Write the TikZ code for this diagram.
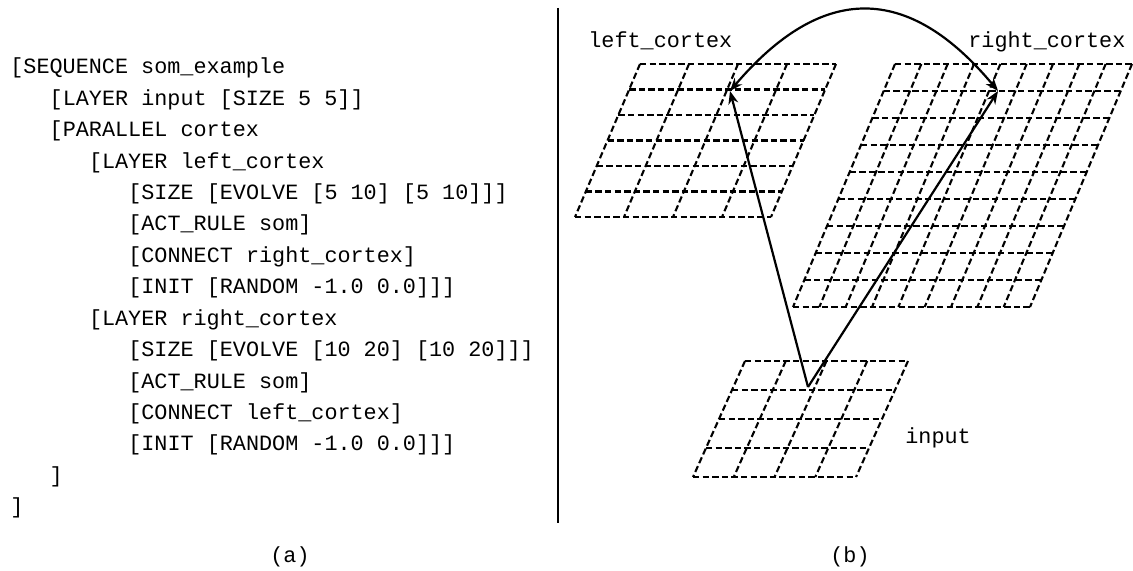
\documentclass[tikz,border=0pt]{standalone}
\usepackage{fontspec}
\newfontfamily\cour{Liberation Mono}
\usetikzlibrary{arrows.meta}
\newcommand{\s}{\hphantom{x}}
\newcommand{\skgrid}[7]{%
  \foreach \i in {0,...,#7}{\draw[gridline] ({#1-#5*\i/#7},{#2+#4*\i/#7}) -- ++(#3,0);}
  \foreach \j in {0,...,#6}{\draw[gridline] ({#1+#3*\j/#6},#2) -- ++(-#5,#4);}
}
\begin{document}
\begin{tikzpicture}[x=0.5pt,y=-0.5pt,
  gridline/.style={line width=1.05pt,dash pattern=on 3.2pt off 1.6pt},
  code/.style={anchor=base west,inner sep=0pt,font=\cour\fontsize{10.9}{13}\selectfont},
  lbl/.style={anchor=base west,inner sep=0pt,font=\cour\fontsize{10.9}{13}\selectfont},
  captext/.style={anchor=base,inner sep=0pt,font=\cour\fontsize{10.9}{13}\selectfont},
  conn/.style={line width=1.1pt,-{Stealth[length=6.5pt,width=5pt]}},
  conn2/.style={line width=1.1pt,{Stealth[length=6.5pt,width=5pt]}-{Stealth[length=6.5pt,width=5pt]}}]
\useasboundingbox (0,0) rectangle (1133,571);
% code listing
\node[code] (l1)  at (10, 74.0)  {[SEQUENCE\s som\_example};
\node[code] (l2)  at (49.3,105.4) {[LAYER\s input\s[SIZE\s5\s5]]};
\node[code] (l3)  at (49.3,136.8) {[PARALLEL\s cortex};
\node[code] (l4)  at (88.6,168.2) {[LAYER\s left\_cortex};
\node[code] (l5)  at (127.9,199.6) {[SIZE\s[EVOLVE\s[5\s10]\s[5\s10]]]};
\node[code] (l6)  at (127.9,231.0) {[ACT\_RULE\s som]};
\node[code] (l7)  at (127.9,262.4) {[CONNECT\s right\_cortex]};
\node[code] (l8)  at (127.9,293.8) {[INIT\s[RANDOM\s-1.0\s0.0]]]};
\node[code] (l9)  at (88.6,325.2) {[LAYER\s right\_cortex};
\node[code] (l10) at (127.9,356.6) {[SIZE\s[EVOLVE\s[10\s20]\s[10\s20]]]};
\node[code] (l11) at (127.9,388.0) {[ACT\_RULE\s som]};
\node[code] (l12) at (127.9,419.4) {[CONNECT\s left\_cortex]};
\node[code] (l13) at (127.9,450.8) {[INIT\s[RANDOM\s-1.0\s0.0]]]};
\node[code] (l14) at (49.3,482.2) {]};
\node[code] (l15) at (10,513.6) {]};
\node[captext] (capa) at (290,562) {(a)};
\node[captext] (capb) at (850,562) {(b)};
% divider
\coordinate (dtop) at (558,8);
\coordinate (dbot) at (558,523);
\draw[line width=0.6pt] (dtop) -- (dbot);
% grids
\skgrid{640}{64}{196}{153}{65}{4}{6}
\skgrid{895}{64}{237}{243}{102}{9}{9}
\skgrid{745}{361}{163}{116}{52}{4}{4}
% labels
\node[lbl] (llab) at (588,48) {left\_cortex};
\node[lbl] (rlab) at (968,48) {right\_cortex};
\node[lbl] (ilab) at (905,443) {input};
% connections
\coordinate (inp) at (808,387);
\coordinate (lt) at (730,91);
\coordinate (rt) at (998,91);
\draw[conn] (inp) -- (lt);
\draw[conn] (inp) -- (rt);
\draw[conn2] (lt) .. controls (822,-17) and (908,-17) .. (rt);
\end{tikzpicture}
\end{document}
